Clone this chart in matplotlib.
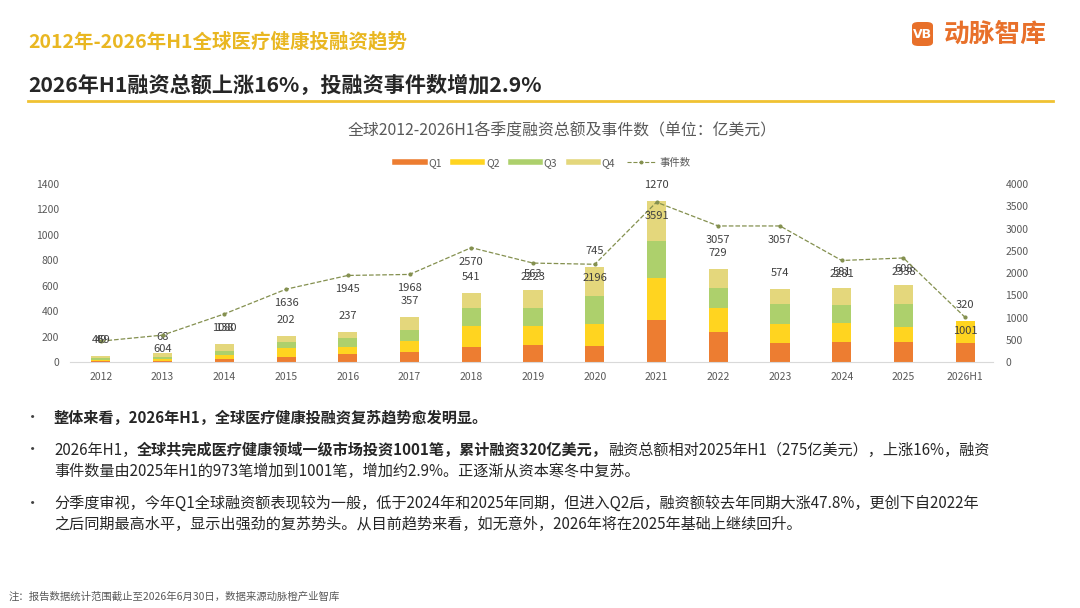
import matplotlib
matplotlib.use('Agg')
import matplotlib.pyplot as plt
from matplotlib.patches import FancyBboxPatch
from matplotlib.lines import Line2D
import numpy as np

plt.rcParams['font.family'] = ['Noto Sans CJK SC', 'DejaVu Sans']

# ---------------- data ----------------
years = ['2012', '2013', '2014', '2015', '2016', '2017', '2018', '2019',
         '2020', '2021', '2022', '2023', '2024', '2025', '2026H1']
q1 = [4, 5, 21, 37, 66, 76, 115, 131, 126, 333, 236, 147, 155, 160, 147]
q2 = [9, 15, 34, 73, 55, 87, 168, 155, 170, 328, 186, 150, 149, 118, 173]
q3 = [17, 22, 34, 50, 68, 86, 142, 139, 226, 289, 158, 157, 145, 176, 0]
q4 = [19, 26, 49, 42, 48, 108, 116, 138, 223, 320, 149, 120, 132, 154, 0]
totals = [49, 68, 138, 202, 237, 357, 541, 563, 745, 1270, 729, 574, 581, 608, 320]
events = [469, 604, 1080, 1636, 1945, 1968, 2570, 2223, 2196, 3591, 3057, 3057,
          2281, 2338, 1001]
left_ticks = [0, 200, 400, 600, 800, 1000, 1200, 1400]
right_ticks = [0, 500, 1000, 1500, 2000, 2500, 3000, 3500, 4000]
series_names = ['Q1', 'Q2', 'Q3', 'Q4', '事件数']

bullet_lines = [
    [('整体来看，2026年H1，全球医疗健康投融资复苏趋势愈发明显。', 'bold')],
    [('2026年H1，', 'normal'),
     ('全球共完成医疗健康领域一级市场投资1001笔，累计融资320亿美元，', 'bold'),
     ('融资总额相对2025年H1（275亿美元），上涨16%，融资', 'normal')],
    [('事件数量由2025年H1的973笔增加到1001笔，增加约2.9%。正逐渐从资本寒冬中复苏。', 'normal')],
    [('分季度审视，今年Q1全球融资额表现较为一般，低于2024年和2025年同期，但进入Q2后，融资额较去年同期大涨47.8%，更创下自2022年', 'normal')],
    [('之后同期最高水平，显示出强劲的复苏势头。从目前趋势来看，如无意外，2026年将在2025年基础上继续回升。', 'normal')],
]
bullet_flags = [True, True, False, True, False]

# ---------------- style ----------------
W, H = 1080, 608
c_q1, c_q2, c_q3, c_q4 = '#ED7D31', '#FFD420', '#ADD06C', '#E4D77C'
c_line = '#84904F'
gold = '#E9B722'
gray_txt = '#595959'
lab_txt = '#404040'

fig = plt.figure(figsize=(W / 100, H / 100), dpi=100)
fig.patch.set_facecolor('white')

ax = fig.add_axes([70 / W, 1 - 362 / H, (993 - 70) / W, 178 / H])
x = np.arange(len(years))
bw = 0.31
b1 = np.array(q1)
b2 = b1 + np.array(q2)
b3 = b2 + np.array(q3)
ax.bar(x, q1, bw, color=c_q1, zorder=2)
ax.bar(x, q2, bw, bottom=b1, color=c_q2, zorder=2)
ax.bar(x, q3, bw, bottom=b2, color=c_q3, zorder=2)
ax.bar(x, q4, bw, bottom=b3, color=c_q4, zorder=2)
tops = b3 + np.array(q4)
for xi, top, tv in zip(x, tops, totals):
    ax.annotate(str(tv), (xi, top), xytext=(0, 11.5), textcoords='offset points',
                ha='center', va='center', fontsize=8, color=lab_txt, zorder=5)

ax.set_xlim(-0.5, 14.45)
ax.set_ylim(0, 1400)
ax.set_yticks(left_ticks)
ax.set_xticks(x)
ax.set_xticklabels(years)
ax.tick_params(axis='both', length=0, labelsize=7.5, labelcolor=gray_txt)
ax.tick_params(axis='y', pad=8)
ax.tick_params(axis='x', pad=7)
for s in ['top', 'left', 'right']:
    ax.spines[s].set_visible(False)
ax.spines['bottom'].set_color('#D9D9D9')
ax.spines['bottom'].set_linewidth(0.8)

ax2 = ax.twinx()
ax2.plot(x, events, color=c_line, ls='--', lw=0.9, marker='o', ms=2, zorder=4)
for i, (xi, ev) in enumerate(zip(x, events)):
    dy = 1 if i == 0 else -10
    ax2.annotate(str(ev), (xi, ev), xytext=(0, dy), textcoords='offset points',
                 ha='center', va='center', fontsize=8, color=lab_txt, zorder=5)
ax2.set_ylim(0, 4000)
ax2.set_yticks(right_ticks)
ax2.tick_params(axis='y', length=0, labelsize=7.5, labelcolor=gray_txt, pad=9)
for s in ax2.spines.values():
    s.set_visible(False)

# legend
handles = [Line2D([], [], color=c, lw=4) for c in [c_q1, c_q2, c_q3, c_q4]]
handles.append(Line2D([], [], color=c_line, ls='--', lw=0.8, marker='o', ms=1.8))
leg = fig.legend(handles, series_names, loc='center', bbox_to_anchor=(543 / W, 1 - 163 / H),
                 ncol=5, frameon=False, fontsize=7.5, handlelength=2.8,
                 handletextpad=0.35, columnspacing=1.1)
for t in leg.get_texts():
    t.set_color(gray_txt)

# chart title
fig.text(562 / W, 1 - 131 / H, '全球2012-2026H1各季度融资总额及事件数（单位：亿美元）',
         ha='center', va='center', fontsize=11.4, color=gray_txt)

# header
fig.text(28 / W, 1 - 42 / H, '2012年-2026年H1全球医疗健康投融资趋势', ha='left', va='center',
         fontsize=14, fontweight='bold', color=gold)
fig.text(28 / W, 1 - 85 / H, '2026年H1融资总额上涨16%，投融资事件数增加2.9%', ha='left',
         va='center', fontsize=15.2, fontweight='bold', color='#262626')
fig.add_artist(Line2D([28 / W, 1053 / W], [1 - 101 / H, 1 - 101 / H], color='#F0C232', lw=2))

# logo
logo = FancyBboxPatch((912 / W, 1 - 46 / H), 21 / W, 24 / H,
                      boxstyle='round,pad=0,rounding_size=0.006',
                      transform=fig.transFigure, facecolor='#E8702A', edgecolor='none')
fig.add_artist(logo)
fig.text(922.5 / W, 1 - 34 / H, 'VB', ha='center', va='center', fontsize=9,
         fontweight='bold', color='white', family=['DejaVu Sans'])
fig.text(944 / W, 1 - 34 / H, '动脉智库', ha='left', va='center', fontsize=18.5,
         fontweight='bold', color='#E8702A')

# bullets
fig.canvas.draw()
renderer = fig.canvas.get_renderer()
line_y = [418, 450, 471, 503, 524]
for parts, flag, yy in zip(bullet_lines, bullet_flags, line_y):
    if flag:
        fig.text(33 / W, 1 - yy / H, '•', ha='center', va='center', fontsize=11,
                 color='#404040')
    xp = 54
    for s, w in parts:
        t = fig.text(xp / W, 1 - yy / H, s, ha='left', va='center', fontsize=10.9,
                     fontweight=w, color='#262626')
        bb = t.get_window_extent(renderer=renderer)
        xp += bb.width

# footnote
fig.text(9 / W, 1 - 597 / H, '注：报告数据统计范围截止至2026年6月30日，数据来源动脉橙产业智库',
         ha='left', va='center', fontsize=7.5, color='#595959')

fig.savefig('out.png', dpi=100, facecolor='white')
